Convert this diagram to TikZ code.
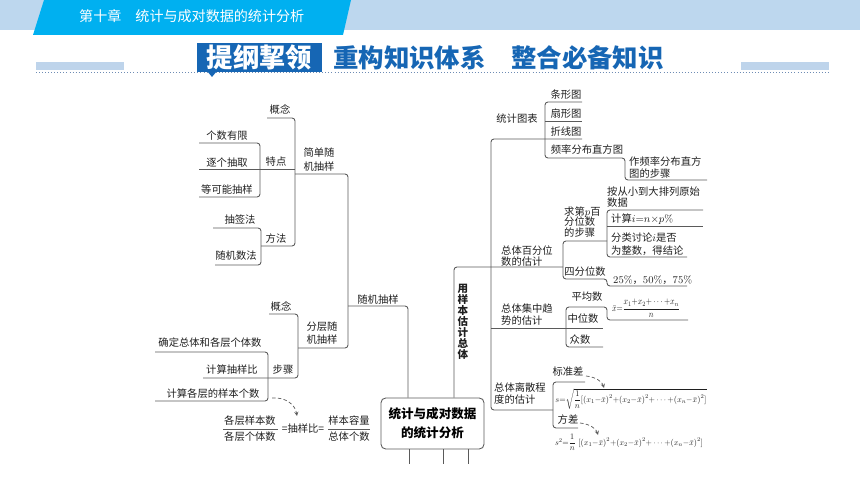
\documentclass[tikz,border=0pt]{standalone}
\usepackage{fontspec}
\usepackage{graphicx}
\newfontfamily\zhfont{Noto Sans CJK SC}
\definecolor{bandblue}{RGB}{189,215,238}
\definecolor{tabblue}{RGB}{0,176,240}
\definecolor{titleblue}{RGB}{22,102,180}
\definecolor{barblue}{RGB}{190,212,235}
\definecolor{dotblue}{RGB}{110,140,180}
\definecolor{linegray}{RGB}{90,90,90}
\def\zh#1#2{\zhfont\fontsize{#1}{#2}\selectfont}
\def\sq#1{(x_{#1}{-}\bar{x})^2}
\def\fit#1#2#3{\resizebox*{#1}{#2}{$#3$}}
\tikzset{
	ln/.style={draw=linegray, line width=0.75pt, rounded corners=2.5pt},
	txt/.style={inner sep=0pt, text=black!88, font=\zh{8.8}{10.2}},
	txtl/.style={txt, align=left, anchor=west},
	frm/.style={inner sep=0pt, text=black!88},
	dsh/.style={draw=linegray, densely dashed, line width=0.6pt, -stealth},
}

\begin{document}
\begin{tikzpicture}[x=0.03cm, y=-0.03cm]
			%%%%% START %%%%%
			\useasboundingbox (0,0) rectangle (860,484);
			
			\fill[bandblue] (0,0) rectangle (860,30);
			\fill[tabblue] (44,0) -- (351,0) -- (343,35) -- (33,35) -- cycle;
			\node[anchor=west, inner sep=0pt, text=white, font=\zh{12}{13}] (chapter) at (79,16) {第十章　统计与成对数据的统计分析};
			
			\fill[barblue] (36,62) rectangle (124,70);
			\fill[barblue] (741,62) rectangle (829,70);
			\draw[dotblue, dotted, line width=0.6pt] (36,72.5) -- (829,72.5);
			\fill[titleblue] (207,71) -- (217,71) -- (212,77) -- cycle;
			\node[fill=titleblue, inner sep=0pt, minimum width=3.75cm, minimum height=0.87cm, text=white, font=\zh{22.5}{24}\bfseries] (tag) at (259.5,57.5) {提纲挈领};
			\node[anchor=west, inner sep=0pt, text=titleblue, font=\zh{21.7}{24}\bfseries] (title) at (333,57.5) {重构知识体系　整合必备知识};
			
			% root
			\node[draw=linegray, line width=0.75pt, rounded corners=4pt, minimum width=3.09cm, minimum height=1.53cm, align=center, inner sep=0pt, font=\zh{10.7}{16}\bfseries] (root) at (432.5,423.5) {统计与成对数据\\的统计分析};
			\draw[ln] (root.south) +(-23.5,0) -- +(-23.5,15);
			\draw[ln] (root.south) +(10.5,0) -- +(10.5,15);
			\draw[ln] (root.south) +(35.5,0) -- +(35.5,15);
			
			% simple random sampling
			\node[txt] (srsc) at (280,110) {概念};
			\node[txt] (feat) at (276,162) {特点};
			\node[txt] (meth) at (276,239) {方法};
			\node[txt] (feat1) at (227,136) {个数有限};
			\node[txt] (feat2) at (227,163) {逐个抽取};
			\node[txt] (feat3) at (227,190) {等可能抽样};
			\node[txt] (meth1) at (240,220) {抽签法};
			\node[txt] (meth2) at (236,256) {随机数法};
			\node[txt, align=center, font=\zh{8.8}{11.9}] (srs) at (319,160) {简单随\\机抽样};
			\draw[ln] (267,118) -- (295,118) -- (295,246) -- (261,246);
			\draw[ln] (199,143) -- (260,143) -- (260,197) -- (199,197);
			\draw[ln] (199,169) -- (295,169);
			\draw[ln] (213,228) -- (261,228) -- (261,265) -- (215,265);
			\draw[ln] (295,174) -- (348,174) -- (348,348) -- (298,348);
			
			\node[txt] (rsamp) at (378,300) {随机抽样};
			\coordinate (rsj) at (408,306);
			\draw[ln] (348,306) -- (rsj) -- (rsj |- root.north);
			
			% stratified sampling
			\node[txt, align=center, font=\zh{8.8}{10.6}] (strat) at (322,333) {分层随\\机抽样};
			\node[txt] (strc) at (281,307) {概念};
			\node[txt] (steps) at (283,370) {步骤};
			\node[txt] (step1) at (210,343) {确定总体和各层个体数};
			\node[txt] (step2) at (232,370) {计算抽样比};
			\node[txt] (step3) at (213,394) {计算各层的样本个数};
			\draw[ln] (269,314) -- (298,314) -- (298,378) -- (203,378);
			\draw[ln] (155,352) -- (268,352) -- (268,401) -- (155,401);
			
			\node[txt] (num1) at (250,421) {各层样本数};
			\node[txt] (den1) at (250,437) {各层个体数};
			\draw[linegray, line width=0.6pt] (223,429) -- (278,429);
			\node[txt] (ratio) at (303,429) {=抽样比=};
			\node[txt] (num2) at (349,421) {样本容量};
			\node[txt] (den2) at (349,437) {总体个数};
			\draw[linegray, line width=0.6pt] (328,429) -- (370,429);
			\draw[dsh] (272,398) .. controls (285,397) and (295,404) .. (297,416);
			
			% estimate population
			\node[inner sep=0pt, align=center, text=black!88, font=\zh{9}{9.35}\bfseries] (usevert) at (463,322) {用\\样\\本\\估\\计\\总\\体};
			\coordinate (usej) at (454,267);
			\draw[ln] (usej |- root.north) -- (usej) -- (563,267);
			\draw[ln] (582,139) -- (491,139) -- (491,410) -- (553,410);
			
			% charts
			\node[txt] (charts) at (517,119) {统计图表};
			\node[txt] (barc) at (566,95) {条形图};
			\node[txt] (piec) at (566,114) {扇形图};
			\node[txt] (linec) at (566,132) {折线图};
			\node[txt] (hist) at (587,150) {频率分布直方图};
			\node[txtl, font=\zh{8.8}{10.2}] (hsteps) at (629,168) {作频率分布直方\\图的步骤};
			\draw[ln] (582,102) -- (545,102) -- (545,158) -- (625,158) -- (625,180) -- (707,180);
			\draw[ln] (545,121) -- (582,121);
			
			% percentiles
			\node[txtl, font=\zh{8.8}{10}] (pct) at (501,256) {总体百分位\\数的估计};
			\node[txtl, font=\zh{8.8}{9.35}] (pstep) at (564,222) {求第$p$百\\分位数\\的步骤};
			\node[txtl, font=\zh{8.8}{9.35}] (psort) at (607,197.5) {按从小到大排列原始\\数据};
			\node[txtl] (pcalc) at (611,219) {计算$i{=}n{\times}p\%$};
			\node[txtl, font=\zh{8.8}{11.5}] (pcase) at (611,244) {分类讨论$i$是否\\为整数，得结论};
			\node[txt] (quart) at (585,272) {四分位数};
			\node[txtl] (qval) at (613,280) {{\rmfamily 25\%}，{\rmfamily 50\%}，{\rmfamily 75\%}};
			\draw[ln] (607,241) -- (563,241) -- (563,279) -- (607,279) -- (607,286) -- (687,286);
			\draw[ln] (703,210) -- (607,210) -- (607,257) -- (687,257);
			\draw[ln] (607,226) -- (703,226);
			
			% central tendency
			\node[txtl] (ctend) at (501,315) {总体集中趋\\势的估计};
			\node[txt] (mean) at (587,297) {平均数};
			\node[txt] (median) at (583,319) {中位数};
			\node[txt] (mode) at (580,340) {众数};
			\node[frm] (meanf) at (646,308.5) {\fit{2.04cm}{0.56cm}{\bar{x}{=}\displaystyle\frac{x_1{+}x_2{+}\cdots{+}x_n}{n}}};
			\draw[ln] (603,347) -- (566,347) -- (566,307) -- (607,307) -- (607,320) -- (688,320);
			\draw[ln] (491,328) -- (603,328);
			
			% dispersion
			\node[txtl] (disp) at (494,394) {总体离散程\\度的估计};
			\node[txt] (sdev) at (568,372) {标准差};
			\node[txt] (vari) at (568,420) {方差};
			\node[frm] (sdevf) at (631,399) {\fit{4.53cm}{0.62cm}{s{=}\sqrt{\displaystyle\frac{1}{n}[\sq1{+}\sq2{+}\cdots{+}\sq{n}]}}};
			\node[frm] (varif) at (629,442.5) {\fit{4.44cm}{0.5cm}{s^2{=}\displaystyle\frac{1}{n}\ [\sq1{+}\sq2{+}\cdots{+}\sq{n}]}};
			\draw[ln] (585,382) -- (553,382) -- (553,428) -- (578,428);
			\draw[dsh] (586,376) .. controls (595,377) and (602,381) .. (604,388);
			\draw[dsh] (580,423) .. controls (589,424) and (596,428) .. (598,435);
			
			%%%%% END %%%%%
\end{tikzpicture}
\end{document}
